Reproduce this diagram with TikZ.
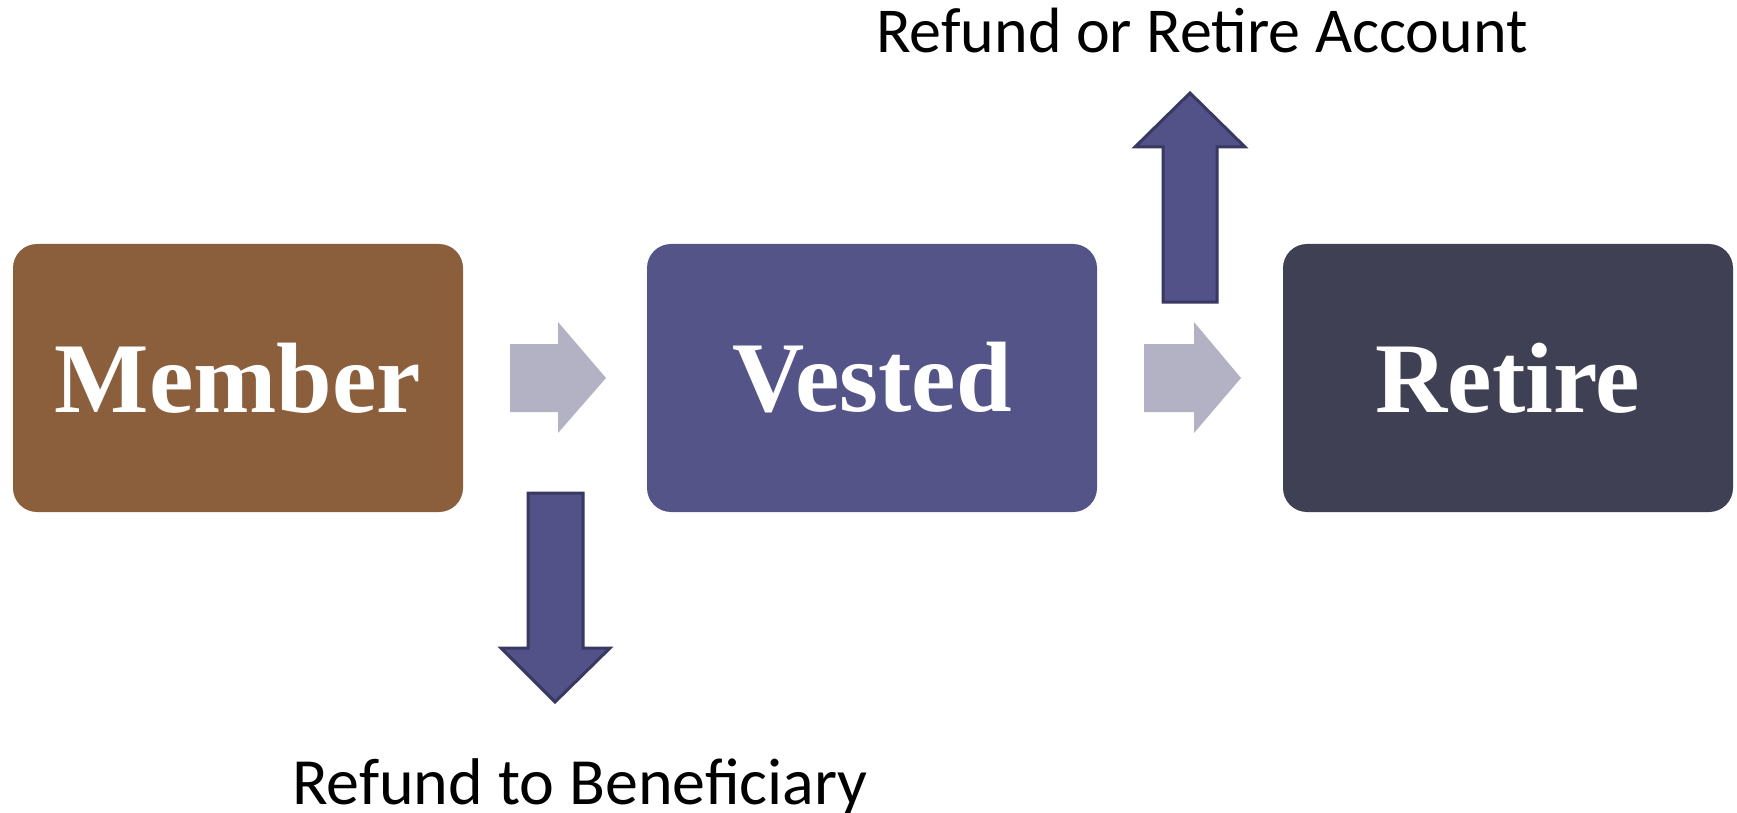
\documentclass[tikz,border=0pt]{standalone}
\usepackage{fontspec}
\setmainfont{Liberation Serif}
\newfontfamily\labelfont{Carlito}
\definecolor{memberc}{RGB}{139,94,60}
\definecolor{vestedc}{RGB}{84,84,136}
\definecolor{retirec}{RGB}{64,64,84}
\definecolor{greyarr}{RGB}{179,178,196}
\definecolor{bluearr}{RGB}{82,82,136}
\definecolor{bluedge}{RGB}{56,56,98}
\begin{document}
\begin{tikzpicture}[x=0.5pt,y=-0.5pt,
  stage/.style={rounded corners=12pt, minimum width=225pt, minimum height=134pt, inner sep=0pt,
     text=white, font=\fontsize{50}{60}\selectfont\bfseries},
  flowarrow/.style={fill=greyarr, draw=none},
  sidearrow/.style={fill=bluearr, draw=bluedge, line width=1.5pt, line join=miter},
  caption/.style={font=\labelfont\fontsize{32}{38}\selectfont, anchor=base, inner sep=0pt}]
\useasboundingbox (0,0) rectangle (1737,813);
\node[stage, fill=memberc] (member) at (238,378) {Member};
\node[stage, fill=vestedc] (vested) at (872,378) {Vested};
\node[stage, fill=retirec] (retire) at (1508,378) {Retire};
% grey flow arrows
\fill[flowarrow] (510,344) -- (558,344) -- (558,322) -- (606,378) -- (558,433) -- (558,412) -- (510,412) -- cycle;
\fill[flowarrow] (1144,344) -- (1194,344) -- (1194,322) -- (1241,378) -- (1194,433) -- (1194,412) -- (1144,412) -- cycle;
% up arrow
\draw[sidearrow] (1163,302) -- (1163,147) -- (1135,147) -- (1190,93) -- (1245,147) -- (1217,147) -- (1217,302) -- cycle;
% down arrow
\draw[sidearrow] (528,493) -- (583,493) -- (583,648) -- (610,648) -- (555,702) -- (501,648) -- (528,648) -- cycle;
\node[caption] (up) at (1202,53) {Refund or Retire Account};
\node[caption, font=\labelfont\fontsize{33}{39}\selectfont] (down) at (580,804) {Refund to Beneficiary};
\end{tikzpicture}
\end{document}
